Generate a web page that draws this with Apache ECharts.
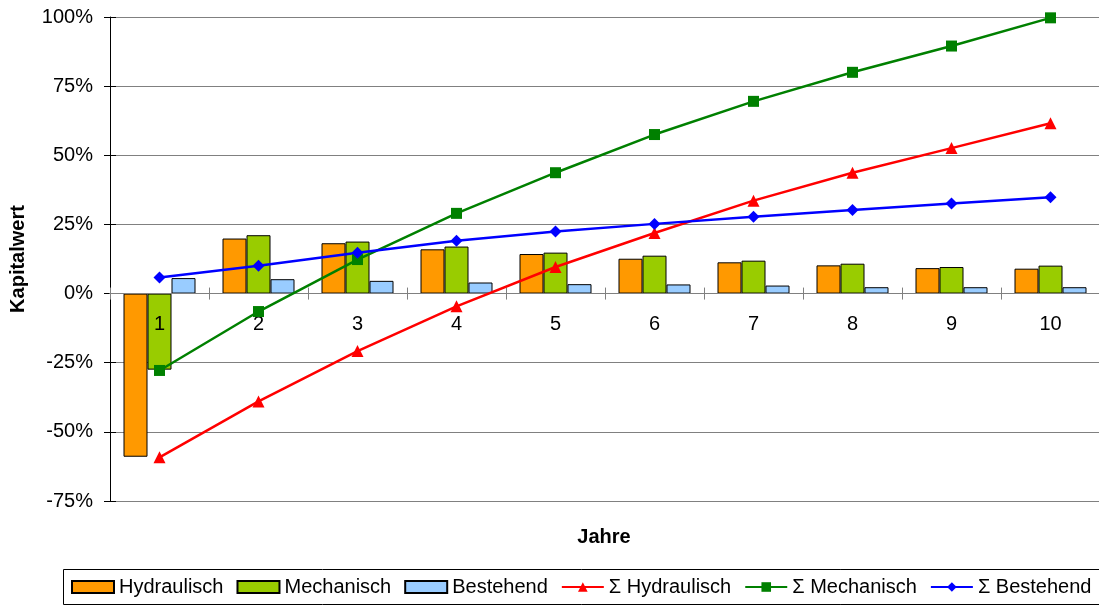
<!DOCTYPE html>
<html>
<head>
<meta charset="utf-8">
<script src="https://cdn.jsdelivr.net/npm/echarts@6/dist/echarts.min.js"></script>
<style>
  html, body { margin: 0; padding: 0; background: #fff; }
  #chart { width: 1099px; height: 606px; }
</style>
</head>
<body>
<div id="chart"></div>
<script>
// Jahre 1..10
const years = ['1', '2', '3', '4', '5', '6', '7', '8', '9', '10'];

// Kapitalwert je Jahr (in %)
const hydraulisch = [-59.0, 19.9, 18.2, 16.0, 14.3, 12.6, 11.3, 10.2, 9.2, 9.0];
const mechanisch  = [-27.5, 21.1, 18.8, 17.0, 14.8, 13.7, 11.9, 10.8, 9.6, 10.1];
const bestehend   = [5.6, 5.2, 4.6, 4.0, 3.4, 3.3, 2.9, 2.3, 2.3, 2.3];

// Kumulierter Kapitalwert (in %)
const sumHydraulisch = [-59.2, -39.0, -20.8, -4.6, 9.6, 21.9, 33.6, 43.7, 52.6, 61.6];
const sumMechanisch  = [-27.8, -6.5, 12.3, 29.0, 43.7, 57.5, 69.5, 80.0, 89.5, 99.7];
const sumBestehend   = [5.8, 10.1, 14.8, 19.1, 22.4, 25.2, 27.8, 30.2, 32.6, 34.8];

// y-Achse: -75 % bis 100 % in 25er-Schritten
const yMin = -75, yMax = 100, yStep = 25;

const FONT = 'Liberation Sans, Arial, sans-serif';
const FS = 20;

// Zeichenfläche
const GRID = { left: 110, top: 17, width: 990, bottom: 105 };
const plotHeight = 606 - GRID.top - GRID.bottom;
// Kategorieachse auf die 0-%-Linie schieben (inkl. Beschriftung)
const zeroOffset = -plotHeight * (0 - yMin) / (yMax - yMin);

const chart = echarts.init(document.getElementById('chart'), null, { renderer: 'canvas' });

function barSeries(name, data, color) {
  return {
    name: name,
    type: 'bar',
    data: data,
    barWidth: 24,
    barGap: '0%',
    itemStyle: { color: color, borderColor: '#000', borderWidth: 1 },
    emphasis: { disabled: true },
    z: 2
  };
}

function lineSeries(name, data, color, symbol, size) {
  return {
    name: name,
    type: 'line',
    data: data,
    symbol: symbol,
    symbolSize: size,
    lineStyle: { color: color, width: 2.5 },
    itemStyle: { color: color },
    emphasis: { disabled: true },
    z: 5
  };
}

// Kategorieachse liegt über den Balken, unter den Linien
const catAxisBase = {
  type: 'category',
  data: years,
  position: 'bottom',
  offset: zeroOffset,
  boundaryGap: true,
  z: 3,
  axisLine: { onZero: false, lineStyle: { color: '#808080', width: 1 } },
  splitLine: { show: false }
};

const valAxisBase = {
  type: 'value',
  min: yMin,
  max: yMax,
  interval: yStep,
  position: 'left'
};

chart.setOption({
  animation: false,
  backgroundColor: '#fff',
  textStyle: { fontFamily: FONT },
  grid: Object.assign({ containLabel: false, outerBoundsMode: 'none' }, GRID),
  xAxis: [
    Object.assign({}, catAxisBase, {
      axisTick: { show: true, inside: false, length: 6, lineStyle: { color: '#808080' } },
      axisLabel: {
        show: true, interval: 0, showMinLabel: true, showMaxLabel: true, hideOverlap: false,
        margin: 21, color: '#000', fontSize: FS, fontFamily: FONT
      }
    }),
    Object.assign({}, catAxisBase, {
      axisTick: { show: true, inside: true, length: 6, lineStyle: { color: '#808080' } },
      axisLabel: { show: false }
    })
  ],
  yAxis: [
    Object.assign({}, valAxisBase, {
      name: 'Kapitalwert',
      nameLocation: 'middle',
      nameRotate: 90,
      nameGap: 82,
      nameTextStyle: { color: '#000', fontSize: FS, fontWeight: 'bold', fontFamily: FONT },
      axisLine: { show: true, lineStyle: { color: '#000', width: 1 } },
      axisTick: { show: true, inside: false, length: 6, lineStyle: { color: '#000' } },
      axisLabel: { color: '#000', fontSize: FS, margin: 17, fontFamily: FONT, formatter: '{value}%' },
      splitLine: { show: true, lineStyle: { color: '#808080', width: 1 } }
    }),
    Object.assign({}, valAxisBase, {
      axisLine: { show: false },
      axisTick: { show: true, inside: true, length: 6, lineStyle: { color: '#000' } },
      axisLabel: { show: false },
      splitLine: { show: false }
    })
  ],
  legend: {
    left: 71,
    top: 577,
    padding: 0,
    itemWidth: 42,
    itemHeight: 12,
    itemGap: 13,
    selectedMode: false,
    textStyle: { color: '#000', fontSize: FS, fontFamily: FONT },
    data: [
      { name: 'Hydraulisch', icon: 'rect' },
      { name: 'Mechanisch', icon: 'rect' },
      { name: 'Bestehend', icon: 'rect' },
      'Σ Hydraulisch', 'Σ Mechanisch', 'Σ Bestehend'
    ]
  },
  graphic: [
    {
      type: 'rect',
      shape: { x: 63.5, y: 569.5, width: 1050, height: 35 },
      style: { fill: 'none', stroke: '#000', lineWidth: 1 },
      silent: true
    },
    {
      type: 'text',
      x: 604,
      y: 537,
      style: {
        text: 'Jahre',
        fill: '#000',
        font: 'bold ' + FS + 'px ' + FONT,
        textAlign: 'center',
        textVerticalAlign: 'middle'
      },
      silent: true
    }
  ],
  series: [
    barSeries('Hydraulisch', hydraulisch, '#FF9900'),
    barSeries('Mechanisch', mechanisch, '#99CC00'),
    barSeries('Bestehend', bestehend, '#99CCFF'),
    lineSeries('Σ Hydraulisch', sumHydraulisch, '#FF0000', 'triangle', 12),
    lineSeries('Σ Mechanisch', sumMechanisch, '#008000', 'rect', 11),
    lineSeries('Σ Bestehend', sumBestehend, '#0000FF', 'diamond', 12)
  ]
});
</script>
</body>
</html>
